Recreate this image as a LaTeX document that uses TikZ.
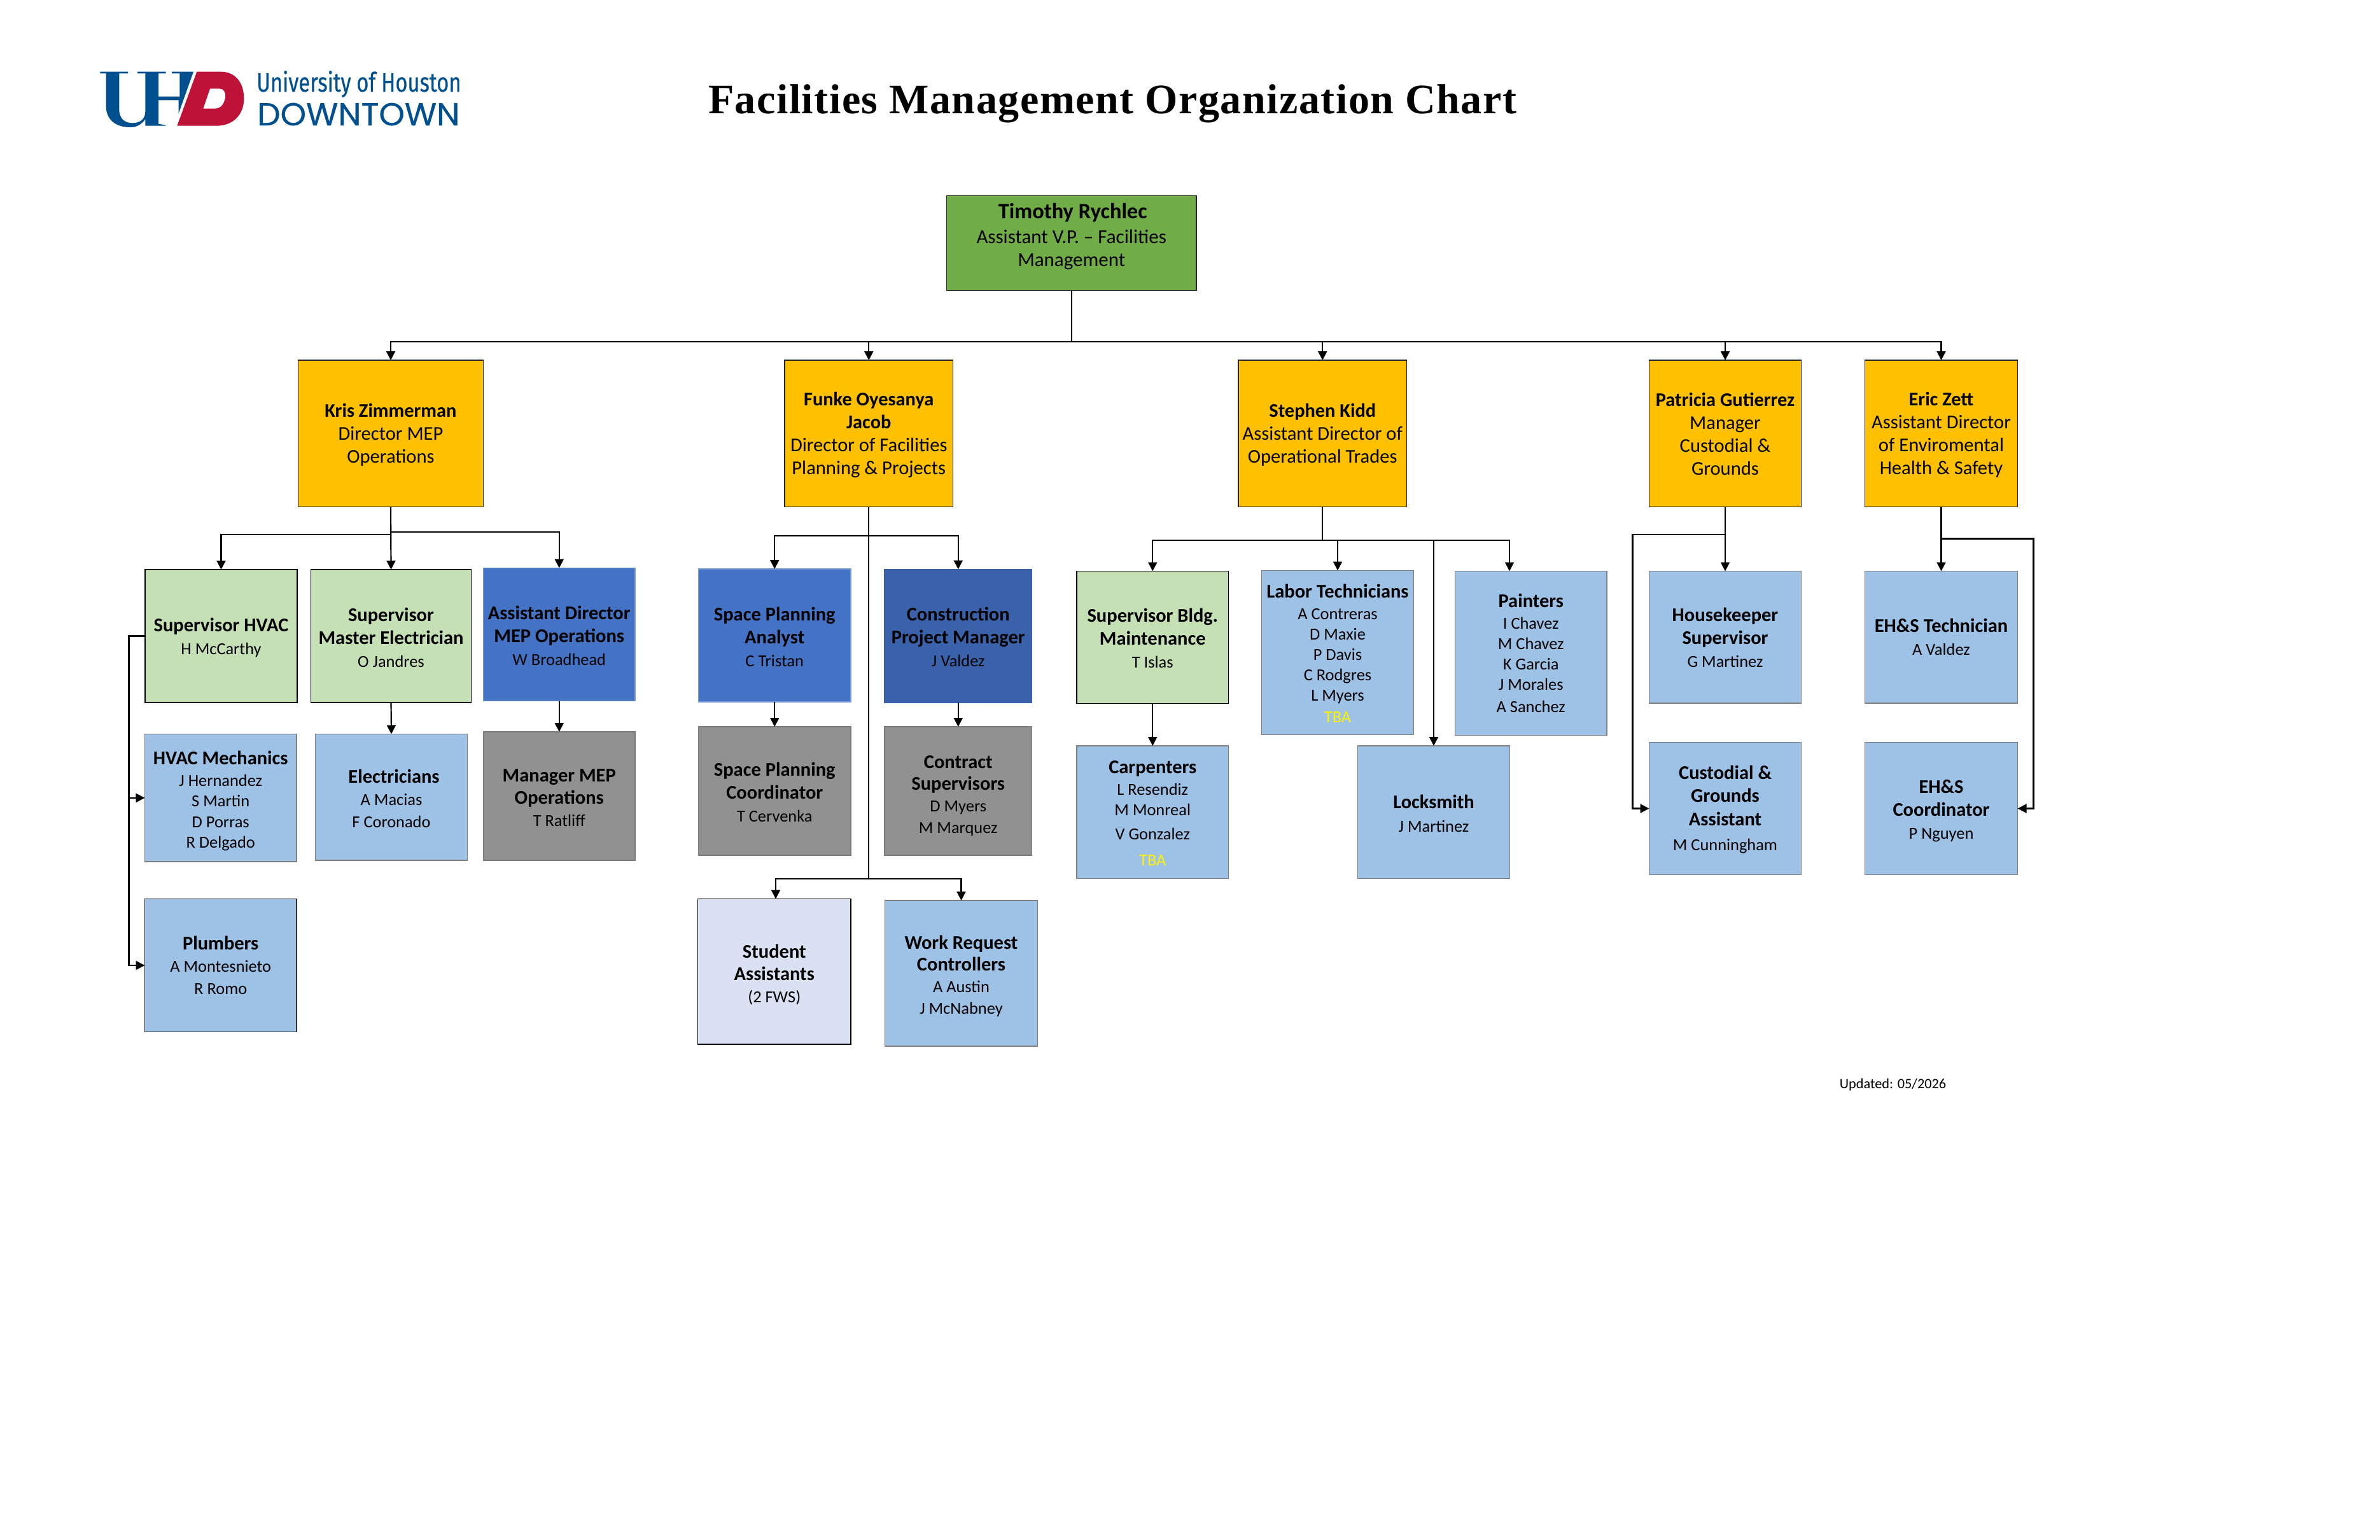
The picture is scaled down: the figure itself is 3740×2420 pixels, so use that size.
\documentclass[tikz,border=0pt]{standalone}
\usepackage{fontspec}
\usepackage{graphicx}
\setmainfont{Carlito}
\newfontfamily\titlefont[LetterSpace=2.3]{Liberation Serif}
\newfontfamily\logoa{Fira Sans}
\newfontfamily\logob{Poppins}
\usetikzlibrary{arrows.meta,calc}
\definecolor{cRoot}{HTML}{70AD47}
\definecolor{cOrange}{HTML}{FFC000}
\definecolor{cGreen}{HTML}{C5E0B4}
\definecolor{cSky}{HTML}{9DC2E6}
\definecolor{cBlue}{HTML}{4472C4}
\definecolor{cNavy}{HTML}{3A62AA}
\definecolor{cGray}{HTML}{919191}
\definecolor{cPale}{HTML}{DAE1F3}
\definecolor{cEdge}{HTML}{7F7F7F}
\definecolor{cLogoBlue}{HTML}{00508F}
\definecolor{cLogoRed}{HTML}{BE1238}
\newcommand\hd[1]{{\fontsize{30.5}{36}\selectfont\bfseries #1}}
\newcommand\nm[1]{{\fontsize{26.4}{36}\selectfont #1}}
\newcommand\ohd[1]{{\fontsize{30.4}{36}\selectfont\bfseries #1}}
\newcommand\orl[1]{{\fontsize{30.6}{36}\selectfont #1}}
\newcommand\tba{\textcolor{yellow}{\nm{TBA}}}
\newcommand\rh{26}
\newcommand\bx[7][36]{%
  \pgfmathsetmacro\bw{#5-#3}\pgfmathsetmacro\bh{#6-#4}%
  \pgfmathsetmacro\bcx{(#3+#5)/2}\pgfmathsetmacro\bcy{(#4+#6)/2}%
  \node[boxbase,lsp=#1,minimum width=\bw pt,minimum height=\bh pt,#2] at (\bcx,\bcy) {\rule{0pt}{\rh pt}#7};
  \gdef\rh{26}}
\tikzset{
  lsp/.style={font=\fontsize{26}{#1}\selectfont},
  boxbase/.style={draw,rectangle,inner sep=0pt,outer sep=0pt,align=center,line width=1.3pt,text=black},
  rootbox/.style={fill=cRoot,draw=black!85},
  orangebox/.style={fill=cOrange,draw=black!85},
  greenbox/.style={fill=cGreen,draw=black},
  skybox/.style={fill=cSky,draw=cEdge},
  skyblk/.style={fill=cSky,draw=black!80},
  bluebox/.style={fill=cBlue,draw=cBlue!70},
  navybox/.style={fill=cNavy,draw=cNavy},
  graybox/.style={fill=cGray,draw=cGray!85!black},
  palebox/.style={fill=cPale,draw=black},
  link/.style={draw=black,line width=2.2pt},
  conn/.style={link,-{Triangle[length=14pt,width=14pt]}}
}
\begin{document}
\begin{tikzpicture}[x=1pt,y=-1pt]
\useasboundingbox (0,0) rectangle (3740,2420);
% logo
\begin{scope}[shift={(150,100)},x=0.33333pt,y=-0.33333pt]
\fill[cLogoBlue] (22,38) -- (153,38) -- (153,46) -- (112,46) -- (112,215)
  .. controls (112,262) and (140,280) .. (175,280)
  .. controls (210,280) and (235,262) .. (235,225)
  -- (235,46) -- (198,46) -- (198,38) -- (332,38) -- (332,46) -- (297,46) -- (297,155)
  -- (397,155) -- (397,46) -- (360,46) -- (360,38) -- (462,38) -- (392,235) -- (392,172)
  -- (297,172) -- (297,284) -- (332,290) -- (332,293) -- (235,293) -- (235,262)
  .. controls (215,290) and (190,300) .. (165,300)
  .. controls (90,300) and (50,260) .. (50,200)
  -- (50,46) -- (22,46) -- cycle;
\fill[cLogoRed,even odd rule] (478,38) -- (590,38)
  .. controls (660,38) and (700,90) .. (700,165)
  .. controls (700,240) and (650,293) .. (570,293)
  -- (385,293) -- cycle
  (540,118) -- (585,118) .. controls (605,118) and (615,135) .. (612,160)
  .. controls (605,195) and (590,212) .. (560,212) -- (508,212) -- cycle;
\end{scope}
\node[anchor=base west,inner sep=0pt,text=cLogoBlue] (logotop) at (403,144)
  {\scalebox{0.78}[1]{\logoa\fontsize{42}{42}\selectfont\addfontfeature{FakeBold=0.6} University of Houston}};
\node[anchor=base west,inner sep=0pt,text=cLogoBlue] (logobot) at (404,197)
  {\scalebox{1.03}[1]{\logob\fontsize{50}{50}\selectfont\addfontfeature{FakeBold=0.6} DOWNTOWN}};
% title
\node[anchor=base,inner sep=0pt] (title) at (1748,178)
  {\titlefont\fontsize{66}{66}\selectfont\bfseries Facilities Management Organization Chart};
% top
\gdef\rh{1}\bx{rootbox,name=root}{1487.5}{307.5}{1880}{456.5}{{\fontsize{34.4}{36}\selectfont\bfseries\hspace*{4pt}Timothy Rychlec}\\[3pt]{\fontsize{31}{36}\selectfont Assistant V.P. – Facilities}\\{\fontsize{31}{36}\selectfont Management}\\[-9pt]\mbox{}}
\bx{orangebox,name=kris}{468.5}{566}{759.5}{796.5}{\ohd{Kris Zimmerman}\\\orl{Director MEP}\\\orl{Operations}}
\bx{orangebox,name=funke}{1233}{566}{1497.5}{796.5}{\ohd{Funke Oyesanya}\\\ohd{Jacob}\\\orl{Director of Facilities}\\\orl{Planning \& Projects}}
\bx{orangebox,name=stephen}{1946}{566}{2210.5}{796.5}{\ohd{Stephen Kidd}\\\orl{Assistant Director of}\\\orl{Operational Trades}}
\gdef\rh{23}\bx{orangebox,name=patricia}{2591.5}{566}{2830.5}{796.5}{\ohd{Patricia Gutierrez}\\\orl{Manager}\\\orl{Custodial \&}\\\orl{Grounds}}
\bx{orangebox,name=eric}{2930.5}{566}{3170.5}{796.5}{\ohd{Eric Zett}\\\orl{Assistant Director}\\\orl{of Enviromental}\\\orl{Health \& Safety}}
% Kris column
\bx{greenbox,name=suphvac}{228}{895}{467}{1104}{\hd{Supervisor HVAC}\\\nm{H McCarthy}}
\bx{greenbox,name=supmaster}{488.5}{895}{740.5}{1104}{\hd{Supervisor}\\\hd{Master Electrician}\\\nm{O Jandres}}
\bx{bluebox,name=asstmep}{759.5}{892.5}{998}{1101.5}{\hd{Assistant Director}\\\hd{MEP Operations}\\\nm{W Broadhead}}
\gdef\rh{31}\bx[32.5]{skybox,name=hvacmech}{227.5}{1153.5}{466}{1354}{\hd{HVAC Mechanics}\\[1.5pt]\nm{J Hernandez}\\\nm{S Martin}\\\nm{D Porras}\\\nm{R Delgado}}
\bx[35]{skybox,name=electric}{495.5}{1153.5}{734.5}{1352}{\hspace*{8pt}\hd{Electricians}\\\nm{A Macias}\\\nm{F Coronado}}
\bx[35]{graybox,name=mgrmep}{759.5}{1150}{998}{1352}{\hd{Manager MEP}\\\hd{Operations}\\\nm{T Ratliff}}
\gdef\rh{1}\bx[35]{skyblk,name=plumbers}{227.5}{1412.5}{466}{1621.5}{\hd{Plumbers}\\\nm{A Montesnieto}\\\nm{R Romo}}
% Funke column
\bx{bluebox,name=spanalyst}{1097.5}{894}{1337}{1103}{\hd{Space Planning}\\\hd{Analyst}\\\nm{C Tristan}}
\gdef\rh{24}\bx{navybox,name=constr}{1390}{894.5}{1621.5}{1104}{\hd{Construction}\\\hd{Project Manager}\\\nm{J Valdez}}
\bx{graybox,name=spcoord}{1097.5}{1142}{1337}{1344}{\hd{Space Planning}\\\hd{Coordinator}\\\nm{T Cervenka}}
\gdef\rh{36}\bx[34]{graybox,name=contract}{1390}{1142}{1621.5}{1344}{\hd{Contract}\\\hd{Supervisors}\\\nm{D Myers}\\\nm{M Marquez}}
\gdef\rh{31}\bx[35]{palebox,name=student}{1096.5}{1412.5}{1337}{1641}{\hd{Student}\\\hd{Assistants}\\\nm{(2 FWS)}}
\gdef\rh{31}\bx[34]{skybox,name=workreq}{1390.5}{1415}{1630.5}{1644}{\hd{Work Request}\\\hd{Controllers}\\\nm{A Austin}\\\nm{J McNabney}}
% Stephen column
\gdef\rh{24}\bx{greenbox,name=supbldg}{1692}{897.5}{1930.5}{1105.5}{\hd{Supervisor Bldg.}\\\hd{Maintenance}\\\nm{T Islas}}
\gdef\rh{24}\bx[32]{skybox,name=labor}{1982.5}{896.5}{2221.5}{1154.5}{\hd{Labor Technicians}\\[2pt]\nm{A Contreras}\\\nm{D Maxie}\\\nm{P Davis}\\\nm{C Rodgres}\\\nm{L Myers}\\[2pt]\tba}
\gdef\rh{1}\bx[32]{skybox,name=painters}{2286.5}{897.5}{2525}{1155.5}{\hd{Painters}\\[2pt]\nm{I Chavez}\\\nm{M Chavez}\\\nm{K Garcia}\\\nm{J Morales}\\[3pt]\nm{A Sanchez}}
\gdef\rh{24}\bx[32]{skybox,name=carpenters}{1692}{1172}{1930.5}{1380.5}{\hd{Carpenters}\\[2pt]\nm{L Resendiz}\\\nm{M Monreal}\\[6pt]\nm{V Gonzalez}\\[9pt]\tba}
\bx[37]{skybox,name=locksmith}{2133.5}{1172}{2372.5}{1380.5}{\hd{Locksmith}\\\nm{J Martinez}}
% Patricia column
\gdef\rh{23}\bx{skybox,name=housekeeper}{2591.5}{897.5}{2830.5}{1105}{\hd{Housekeeper}\\\hd{Supervisor}\\\nm{G Martinez}}
\gdef\rh{24}\bx{skybox,name=custodial}{2591.5}{1166.5}{2830.5}{1374.5}{\hd{Custodial \&}\\\hd{Grounds}\\[1pt]\hd{Assistant}\\[3pt]\nm{M Cunningham}}
% Eric column
\gdef\rh{1}\bx{skybox,name=ehstech}{2930.5}{897.5}{3170.5}{1105}{\hd{EH\&S Technician}\\\nm{A Valdez}}
\gdef\rh{29}\bx{skybox,name=ehscoord}{2930.5}{1166.5}{3170.5}{1374.5}{\hd{EH\&S}\\\hd{Coordinator}\\\nm{P Nguyen}}
\node[anchor=center,inner sep=0pt,font=\fontsize{22.3}{22}\selectfont] (updated) at (2974.5,1705) {Updated: 05/2026};
% connectors
\coordinate (bus) at (root.south |- 0,537);
\draw[link,line width=1.8pt] (root.south) -- (bus);
\draw[conn] (bus) -| (kris.north);
\draw[conn] (bus) -| (funke.north);
\draw[conn] (bus) -| (stephen.north);
\draw[conn] (bus) -| (patricia.north);
\draw[conn] (bus) -| (eric.north);
% Kris
\coordinate (kl) at (kris.south |- 0,840);
\coordinate (kr) at (kris.south |- 0,836);
\draw[link] (kris.south) -- (kl);
\draw[conn] (kl) -| (suphvac.north);
\draw[conn] (kris.south) -- (supmaster.north);
\draw[conn] (kr) -| (asstmep.north);
\coordinate (hv1) at (suphvac.west -| 202.5,0);
\coordinate (hv2) at (202.5,1254);
\coordinate (hv3) at (202.5,1517);
\draw[link] (suphvac.west) -- (hv1) -- (hv2);
\draw[conn] (hv2) -- (hvacmech.west);
\draw[conn] (hv2) -- (hv3) -- (plumbers.west);
\draw[conn] (supmaster.south) -- (electric.north);
\draw[conn] (asstmep.south) -- (mgrmep.north);
% Funke
\coordinate (fu) at (funke.south |- 0,842);
\coordinate (fd) at (funke.south |- 0,1381);
\draw[link] (funke.south) -- (fd);
\draw[conn] (fu) -| (spanalyst.north);
\draw[conn] (fu) -| (constr.north);
\draw[conn] (spanalyst.south) -- (spcoord.north);
\draw[conn] (constr.south) -- (contract.north);
\coordinate (stud) at (1219,1412.5);
\draw[conn] (fd) -| (stud);
\draw[conn] (fd) -| (workreq.north);
% Stephen
\coordinate (sb) at (stephen.south |- 0,849);
\coordinate (paint) at (2372,897.5);
\draw[link] (stephen.south) -- (sb);
\draw[conn] (sb) -| (supbldg.north);
\draw[conn] (sb) -| (labor.north);
\draw[conn] (sb) -| (locksmith.north);
\draw[conn] (sb) -| (paint);
\draw[conn] (supbldg.south) -- (carpenters.north);
% Patricia
\coordinate (pb) at (patricia.south |- 0,840);
\coordinate (pl) at (2565.5,840);
\draw[conn] (patricia.south) -- (housekeeper.north);
\draw[conn] (pb) -- (pl) |- (custodial.west);
% Eric
\coordinate (eb) at (eric.south |- 0,846.5);
\coordinate (er) at (3195.5,846.5);
\draw[conn] (eric.south) -- (ehstech.north);
\draw[conn] (eb) -- (er) |- (ehscoord.east);
\end{tikzpicture}
\end{document}
